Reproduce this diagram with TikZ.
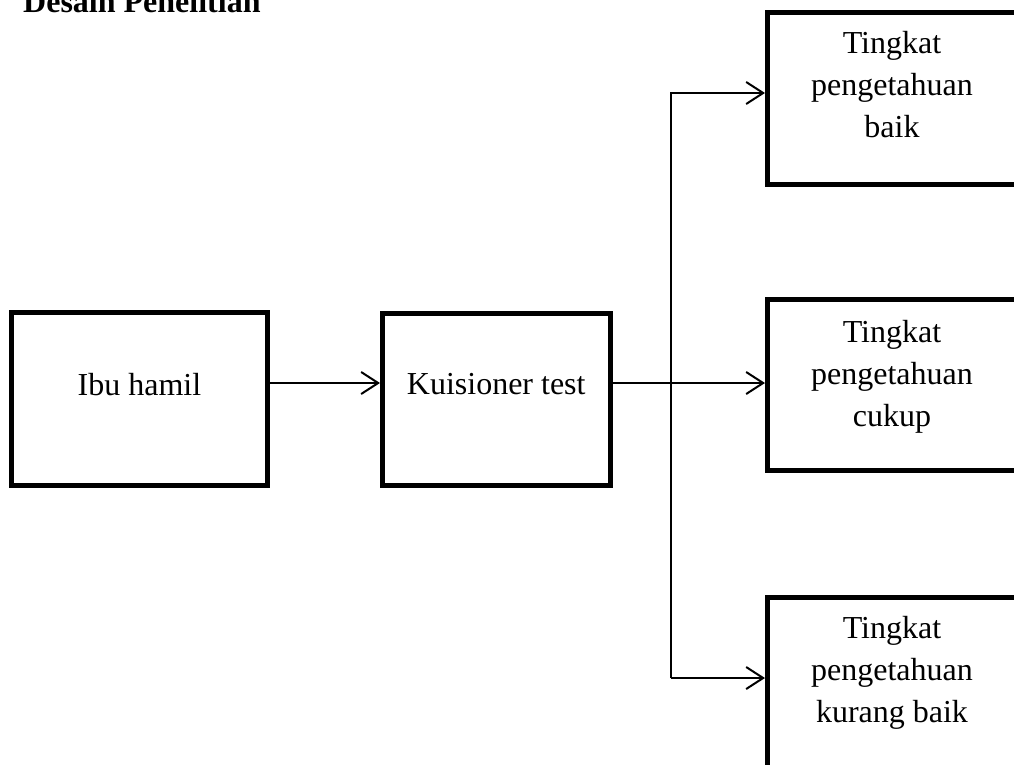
\documentclass[tikz,border=0pt]{standalone}
\usepackage{fontspec}
\setmainfont{Liberation Serif}
\usetikzlibrary{arrows.meta}
\begin{document}
\begin{tikzpicture}[x=1pt,y=-1pt,
  box/.style={draw=black,line width=5pt,inner sep=0pt,rectangle},
  txt/.style={inner sep=0pt,align=center,font=\fontsize{32}{42}\selectfont},
  conn/.style={draw=black,line width=2pt},
  arr/.style={conn,-{Straight Barb[length=17pt,width=22pt]}}]
\useasboundingbox (0,0) rectangle (1014,764);
\clip (0,0) rectangle (1014,764);
% title
\node[txt,anchor=base west,font=\bfseries\fontsize{32}{42}\selectfont] (title) at (23,12) {Desain Penelitian};
% boxes
\node[box,minimum width=256pt,minimum height=173pt] (b1) at (139.5,399) {};
\node[box,minimum width=227.5pt,minimum height=172pt] (b2) at (496.25,399.5) {};
\node[box,minimum width=252.5pt,minimum height=172pt] (b3) at (893.75,98.5) {};
\node[box,minimum width=252.5pt,minimum height=171pt] (b4) at (893.75,385) {};
\node[box,minimum width=252.5pt,minimum height=172pt] (b5) at (893.75,683) {};
% texts
\node[txt,anchor=base] (t1) at (139.5,395) {Ibu hamil};
\node[txt,anchor=base] (t2) at (496.25,394) {Kuisioner test};
\node[txt,anchor=north] (t3) at (892,31) {Tingkat\\pengetahuan\\baik};
\node[txt,anchor=north] (t4) at (892,320) {Tingkat\\pengetahuan\\cukup};
\node[txt,anchor=north] (t5) at (892,616) {Tingkat\\pengetahuan\\kurang baik};
% connectors
\coordinate (row) at (0,383);
\coordinate (jt) at (671,93);
\coordinate (jb) at (671,678);
\draw[arr] (b1.east |- row) -- (b2.west |- row);
\draw[arr] (b2.east |- row) -- (b4.west |- row);
\draw[arr] (jb) -- (jt) -- (b3.west |- jt);
\draw[arr] (jb) -- (b5.west |- jb);
\end{tikzpicture}
\end{document}
